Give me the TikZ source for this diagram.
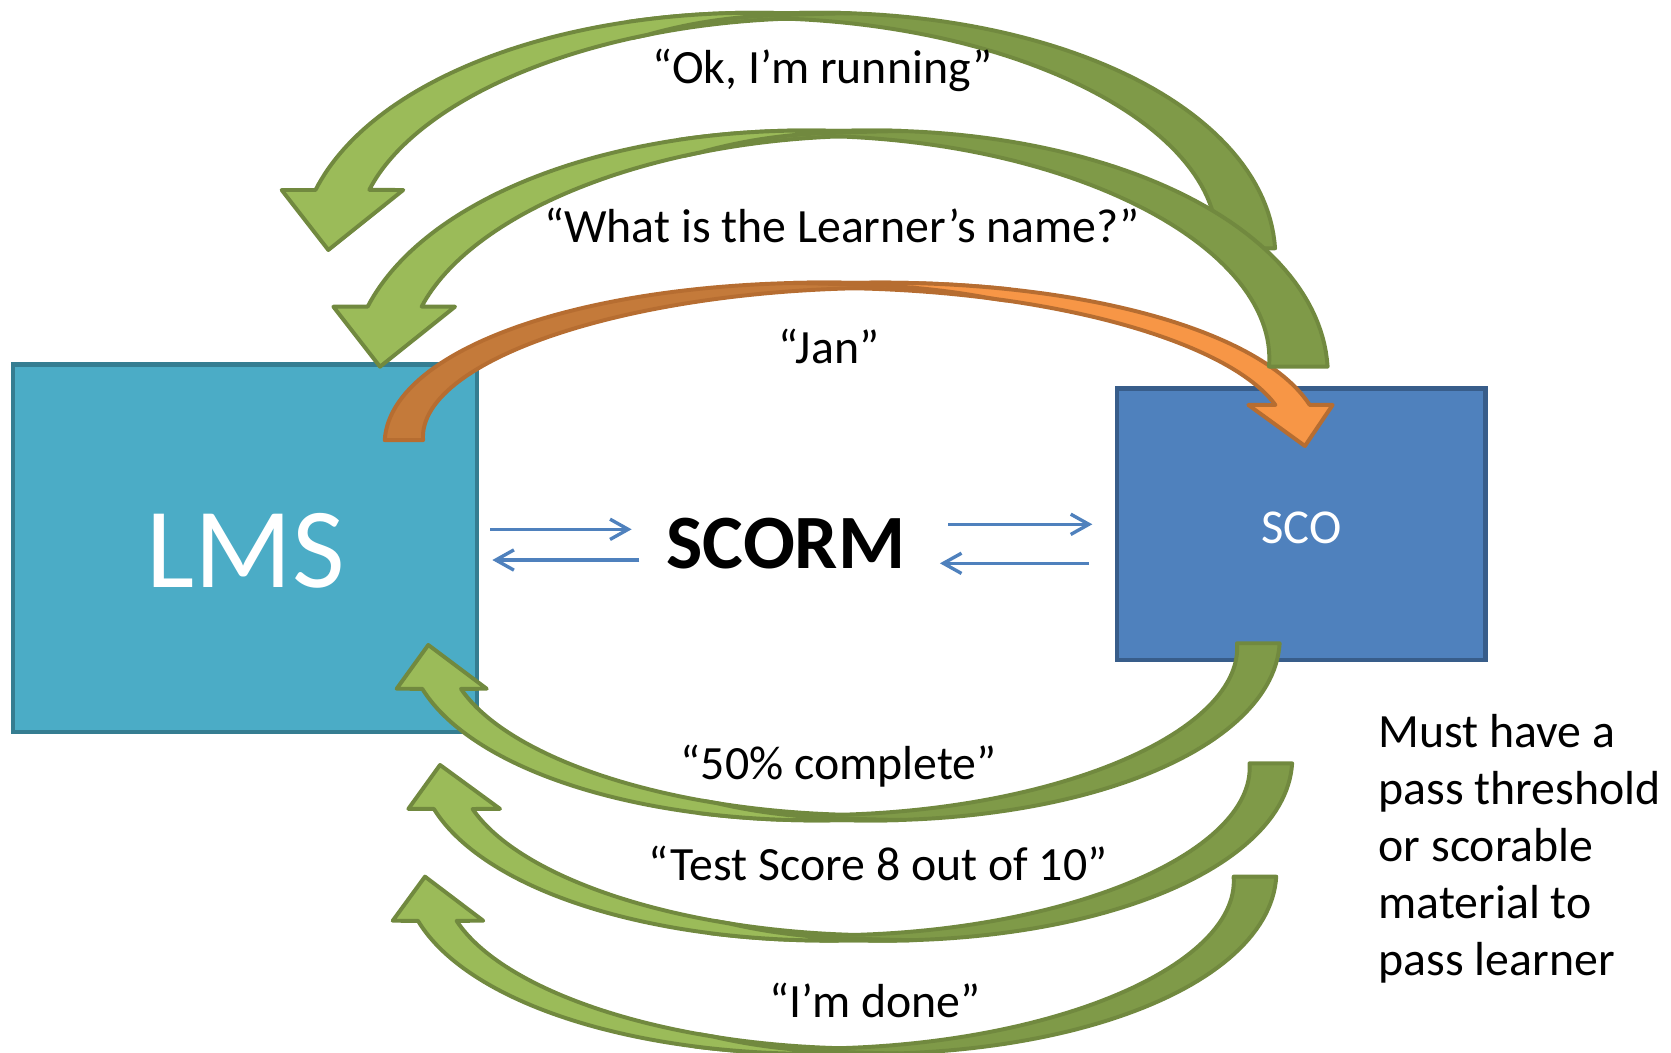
\documentclass[tikz,border=0pt]{standalone}
\usepackage{fontspec}
\setmainfont{Carlito}
\usetikzlibrary{arrows.meta}

\definecolor{lmsfill}{HTML}{4BACC6}
\definecolor{lmsedge}{HTML}{357D91}
\definecolor{scofill}{HTML}{4F81BD}
\definecolor{scoedge}{HTML}{385D8A}
\definecolor{greenlight}{HTML}{9BBB59}
\definecolor{greendark}{HTML}{7F9A48}
\definecolor{greenedge}{HTML}{71893F}
\definecolor{orangelight}{HTML}{F79646}
\definecolor{orangedark}{HTML}{C47A3A}
\definecolor{orangeedge}{HTML}{B66D31}
\definecolor{flowblue}{HTML}{4F81BD}

% parameters of one curved ribbon arrow (elliptical centre line)
\pgfkeys{/ribbon/.cd,
  cx/.store in=\rbcx, cy/.store in=\rbcy, rx/.store in=\rbrx, ry/.store in=\rbry,
  tail/.store in=\rbtail, mid/.store in=\rbmid, head/.store in=\rbhead,
  htail/.store in=\rbhtail, htop/.store in=\rbhtop, hhead/.store in=\rbhhead,
  dark end/.store in=\rbdarkend, light end/.store in=\rblightend,
  light full/.store in=\rblightfull,
  outer end/.store in=\rbouterend, inner end/.store in=\rbinnerend,
  dark/.store in=\rbdark, light/.store in=\rblight, edge/.store in=\rbedge,
  wing outer/.store in=\rbwo, tip/.store in=\rbtip, wing inner/.store in=\rbwi}

\newcommand\drawribbon[1]{%
  \pgfkeys{/ribbon/.cd,#1}%
  \begin{scope}[declare function={
      hb(\ang)=\rbhtop+(\rbhtail-\rbhtop)*max(0,(\ang-\rbmid)/(\rbtail-\rbmid))
               +(\rbhhead-\rbhtop)*max(0,(\ang-\rbmid)/(\rbhead-\rbmid));
      sl(\ang)=min(1,(\ang-\rblightend)/(\rblightfull-\rblightend));}]
    % back face, from the tail over the crest
    \filldraw[ribbonline, fill=\rbdark, draw=\rbedge]
      plot[domain=\rbtail:\rbdarkend] ({\rbcx+(\rbrx+hb(\x))*cos(\x)},{\rbcy-(\rbry+hb(\x))*sin(\x)})
      -- plot[domain=\rbdarkend:\rbtail] ({\rbcx+(\rbrx-hb(\x))*cos(\x)},{\rbcy-(\rbry-hb(\x))*sin(\x)})
      -- cycle;
    % front face with the arrow head
    \filldraw[ribbonline, fill=\rblight, draw=\rbedge]
      plot[domain=\rblightend:\rbouterend] ({\rbcx+(\rbrx+hb(\x))*cos(\x)},{\rbcy-(\rbry+hb(\x))*sin(\x)})
      -- (\rbwo) -- (\rbtip) -- (\rbwi)
      -- plot[domain=\rbinnerend:\rblightend]
         ({\rbcx+(\rbrx+hb(\x)*(1-2*sl(\x)))*cos(\x)},{\rbcy-(\rbry+hb(\x)*(1-2*sl(\x)))*sin(\x)})
      -- cycle;
  \end{scope}}

\begin{document}
\begin{tikzpicture}[x=0.01cm, y=-0.01cm,
  ribbonline/.style={line width=1.05pt, line join=round},
  box/.style={line width=1.15pt},
  flow/.style={draw=flowblue, line width=0.9pt,
    -{Straight Barb[length=1.7mm, width=1.9mm]}},
  lbl/.style={font=\fontsize{12.75}{15.3}\selectfont, inner sep=0pt, anchor=base},
  note/.style={font=\fontsize{12.75}{15.3}\selectfont, inner sep=0pt, anchor=base west}]
\useasboundingbox (0,0) rectangle (1568,988);
\tikzset{every plot/.style={samples=70}}

% the two systems
\filldraw[box, fill=lmsfill, draw=lmsedge] (12,342) rectangle (447.5,687);
\filldraw[box, fill=scofill, draw=scoedge] (1048,364.5) rectangle (1394,619.5);
\node[inner sep=0pt, anchor=base, text=white, font=\fontsize{30.5}{35}\selectfont]
  (lms) at (230.5,551) {LMS};
\node[inner sep=0pt, anchor=base, text=white, font=\fontsize{13}{16}\selectfont]
  (sco) at (1221,510) {SCO};

% arrow head corners
\coordinate (Cwo) at (1250.5,380);  \coordinate (Ctip) at (1224.5,418.5); \coordinate (Cwi) at (1171.4,380);
\coordinate (Awo) at (264.3,178.3); \coordinate (Atip) at (308.1,234.6);  \coordinate (Awi) at (378.4,178.3);
\coordinate (Bwo) at (312.8,287.8); \coordinate (Btip) at (356.6,344.1);  \coordinate (Bwi) at (427,287.8);
\coordinate (Dwo) at (372.2,646.3); \coordinate (Dtip) at (401.9,605.2);  \coordinate (Dwi) at (456.7,646.3);
\coordinate (Ewo) at (383.2,759);   \coordinate (Etip) at (412.9,717.8);  \coordinate (Ewi) at (469.2,759);
\coordinate (Fwo) at (368.5,864);   \coordinate (Ftip) at (398.8,822.6);  \coordinate (Fwi) at (453.5,864);

% "Jan": LMS -> SCO
\drawribbon{cx=801.5, cy=413, rx=422.5, ry=145, tail=180, mid=90, head=14.8,
  htail=18, htop=2.5, hhead=14, dark end=70, light end=98, light full=72,
  outer end=11.98, inner end=14.59, dark=orangedark, light=orangelight, edge=orangeedge,
  wing outer=Cwo, tip=Ctip, wing inner=Cwi}

% "Ok, I'm running": SCO -> LMS
\drawribbon{cx=738.3, cy=233, rx=430.7, ry=218, tail=0, mid=90, head=165.5,
  htail=27.5, htop=2.5, hhead=23, dark end=110, light end=82, light full=108,
  outer end=166.9, inner end=163.7, dark=greendark, light=greenlight, edge=greenedge,
  wing outer=Awo, tip=Atip, wing inner=Awi}

% "What is the Learner's name?": SCO -> LMS
\drawribbon{cx=787.1, cy=344, rx=431.2, ry=218.5, tail=0, mid=90, head=165.1,
  htail=27.5, htop=2.5, hhead=23, dark end=110, light end=82, light full=108,
  outer end=166.54, inner end=163.29, dark=greendark, light=greenlight, edge=greenedge,
  wing outer=Bwo, tip=Btip, wing inner=Bwi}

% "50% complete"
\drawribbon{cx=790.8, cy=603.6, rx=390, ry=163.4, tail=360, mid=270, head=195.1,
  htail=20, htop=2.5, hhead=16, dark end=250, light end=278, light full=252,
  outer end=193.77, inner end=196.84, dark=greendark, light=greenlight, edge=greenedge,
  wing outer=Dwo, tip=Dtip, wing inner=Dwi}

% "Test Score 8 out of 10"
\drawribbon{cx=802.1, cy=716.3, rx=390.4, ry=163.5, tail=360, mid=270, head=195.1,
  htail=20, htop=2.5, hhead=16, dark end=250, light end=278, light full=252,
  outer end=193.77, inner end=196.84, dark=greendark, light=greenlight, edge=greenedge,
  wing outer=Ewo, tip=Etip, wing inner=Ewi}

% "I'm done"
\drawribbon{cx=787.6, cy=822.6, rx=390, ry=163.5, tail=360, mid=270, head=195.1,
  htail=20, htop=2.5, hhead=16, dark end=250, light end=278, light full=252,
  outer end=193.34, inner end=196.3, dark=greendark, light=greenlight, edge=greenedge,
  wing outer=Fwo, tip=Ftip, wing inner=Fwi}

% SCORM in the middle with its exchange arrows
\node[inner sep=0pt, anchor=base, font=\fontsize{20.5}{24}\selectfont\bfseries]
  (scorm) at (737.5,533) {SCORM};
\coordinate (l1s) at (459.8,496.7); \coordinate (l1e) at (592.7,496.7);
\coordinate (l2s) at (600,525.5);   \coordinate (l2e) at (462,525.5);
\coordinate (r1s) at (890,492);     \coordinate (r1e) at (1025,492);
\coordinate (r2s) at (1022,528.6);  \coordinate (r2e) at (882,528.6);
\draw[flow] (l1s) -- (l1e);
\draw[flow] (l2s) -- (l2e);
\draw[flow] (r1s) -- (r1e);
\draw[flow] (r2s) -- (r2e);

% messages
\node[lbl] (msgok)   at (772,78)    {“Ok, I’m running”};
\node[lbl] (msgname) at (790,228)   {“What is the Learner’s name?”};
\node[lbl] (msgjan)  at (777.5,341) {“Jan”};
\node[lbl] (msghalf) at (787,731)   {“50\% complete”};
\node[lbl] (msgtest) at (824,826)   {“Test Score 8 out of 10”};
\node[lbl] (msgdone) at (821,955)   {“I’m done”};

% side note
\node[note] (n1) at (1293,701)   {Must have a};
\node[note] (n2) at (1293,754.7) {pass threshold};
\node[note] (n3) at (1293,808.4) {or scorable};
\node[note] (n4) at (1293,862.1) {material to};
\node[note] (n5) at (1293,915.8) {pass learner};
\end{tikzpicture}
\end{document}
